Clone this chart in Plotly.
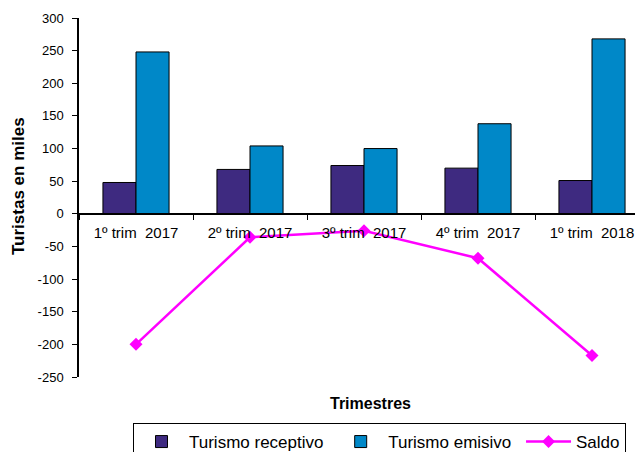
import plotly.graph_objects as go

categories = ["1º trim  2017", "2º trim  2017", "3º trim  2017", "4º trim  2017", "1º trim  2018"]
receptivo = [48, 68, 74, 70, 51]
emisivo = [248, 104, 100, 138, 268]
saldo = [-200, -36, -26, -68, -217]
y_tickvals = [-250, -200, -150, -100, -50, 0, 50, 100, 150, 200, 250, 300]
y_ticklabels = ["-250", "-200", "-150", "-100", "-50", "0", "50", "100", "150", "200", "250", "300"]

NB = "\u00a0"
fig = go.Figure()
fig.add_trace(go.Bar(x=categories, y=receptivo, name="Turismo receptivo" + NB,
                     marker=dict(color="#3E2A80", line=dict(color="black", width=1))))
fig.add_trace(go.Bar(x=categories, y=emisivo, name="Turismo emisivo" + NB,
                     marker=dict(color="#0088C8", line=dict(color="black", width=1))))
fig.add_trace(go.Scatter(x=categories, y=saldo, name="Saldo", mode="lines+markers",
                         line=dict(color="#FF00FF", width=2.5),
                         marker=dict(symbol="diamond", size=10, color="#FF00FF")))

# page body has an 8px margin; compensate so the plot lands where the reference has it
OFF = 8
W, H = 643, 452
L, R, T = 79 - OFF, OFF, 18 - OFF
ph = 359
B = H - T - ph
pw = W - L - R

def px_x(x):
    return (x - OFF - L) / pw

def px_y(y):
    return (H - B - (y - OFF)) / ph

fig.update_layout(
    width=W, height=H,
    margin=dict(l=L, r=R, t=T, b=B, autoexpand=False),
    paper_bgcolor="white", plot_bgcolor="white",
    barmode="group", bargap=0.42, bargroupgap=0,
    font=dict(family="Liberation Sans, Arial", color="black"),
    showlegend=True,
    legend=dict(orientation="h", x=px_x(133), xanchor="left",
                y=px_y(423), yanchor="top",
                bordercolor="black", borderwidth=1, itemwidth=45,
                font=dict(size=17, family="Liberation Sans, Arial"),
                bgcolor="white"),
    xaxis=dict(type="category", range=[-0.5, -0.5 + pw / 114.0],
               anchor="free", position=250 / 550,
               showline=True, linecolor="black", linewidth=1.5,
               ticks="outside", ticklen=5, tickcolor="black", tickson="boundaries",
               ticklabelstandoff=5,
               showgrid=False, tickfont=dict(size=15)),
    yaxis=dict(range=[-250, 300], tickmode="array", tickvals=y_tickvals, ticktext=y_ticklabels,
               showline=True, linecolor="black", linewidth=1.5,
               ticks="outside", ticklen=5, tickcolor="black", showgrid=False,
               ticklabelstandoff=6,
               zeroline=False, tickfont=dict(size=13)),
    annotations=[
        dict(text="<b>Turistas en miles</b>", textangle=-90, xref="paper", yref="paper",
             x=px_x(18), y=px_y(186), showarrow=False,
             font=dict(size=17), xanchor="center", yanchor="middle"),
        dict(text="<b>Trimestres</b>", xref="paper", yref="paper",
             x=px_x(370), y=px_y(403), showarrow=False,
             font=dict(size=16), xanchor="center", yanchor="middle"),
    ],
)

fig.write_html("out.html")
